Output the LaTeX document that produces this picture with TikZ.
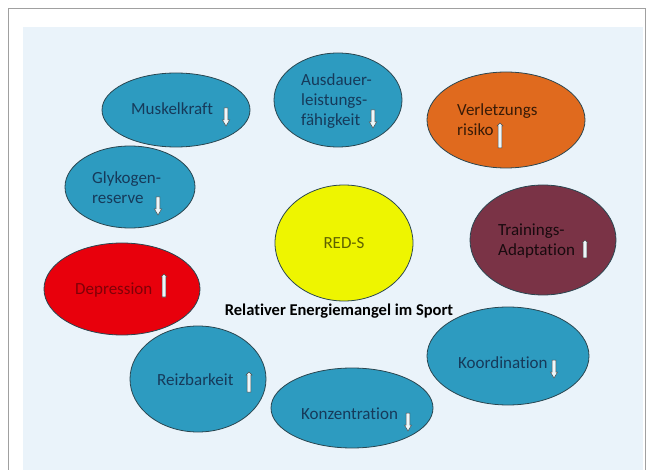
\documentclass[tikz,border=0pt]{standalone}
\usepackage{fontspec}
\setmainfont[Ligatures=NoCommon]{Carlito}
\usetikzlibrary{shapes.geometric,calc}
\definecolor{panel}{HTML}{EAF3FA}
\definecolor{frameg}{HTML}{A0A0A0}
\definecolor{bubble}{HTML}{2D9BC0}
\definecolor{orangeb}{HTML}{E06A1E}
\definecolor{maroonb}{HTML}{7A3346}
\definecolor{redb}{HTML}{E8000C}
\definecolor{yellowb}{HTML}{EEF500}
\definecolor{navy}{HTML}{163A5A}
\definecolor{edge}{HTML}{2A4650}
\definecolor{arrfill}{HTML}{EEF7FA}
\tikzset{
  bub/.style={ellipse, draw=edge, line width=0.8pt, inner sep=0pt},
  lbl/.style={inner sep=0pt, anchor=west, align=left, font=\fontsize{17}{20}\selectfont, text=navy},
  arr/.style={draw=black!70, fill=arrfill, line width=0.5pt, line join=miter},
}
\newcommand\DnArr[2]{% top point (#1,#2)
  \draw[arr] ($(#1,#2)+(-1.8,0)$) -- ++(3.6,0) -- ++(0,12) -- ++(1.8,0) -- ++(-3.6,6) -- ++(-3.6,-6) -- ++(1.8,0) -- cycle;}
\newcommand\UpArr[3]{% top point (#1,#2), height #3
  \draw[arr] ($(#1,#2)+(-1.9,#3)$) -- ++(3.8,0) -- ++(0,-#3+3) -- ++(1,0) -- ++(-2.9,-3) -- ++(-2.9,3) -- ++(1,0) -- cycle;}
\begin{document}
\begin{tikzpicture}[x=1pt,y=-1pt]
\useasboundingbox (0,0) rectangle (653,470);
\fill[white] (0,0) rectangle (653,470);
\draw[frameg, line width=0.8pt] (8.5,475) -- (8.5,8.5) -- (645,8.5) -- (645,475);
\fill[panel] (23,27) rectangle (643,470);

% ellipses
\node[bub, fill=bubble, minimum width=148pt, minimum height=74pt] (muskel) at (176,110) {};
\node[bub, fill=bubble, minimum width=128pt, minimum height=94pt] (ausdauer) at (338,100) {};
\node[bub, fill=orangeb, minimum width=158pt, minimum height=96pt] (verletz) at (506,120) {};
\node[bub, fill=bubble, minimum width=130pt, minimum height=82pt] (glyko) at (130,187) {};
\node[bub, fill=yellowb, minimum width=138pt, minimum height=116pt] (reds) at (344,243) {};
\node[bub, fill=maroonb, minimum width=146pt, minimum height=110pt] (train) at (543,240) {};
\node[bub, fill=redb, minimum width=156pt, minimum height=92pt] (depr) at (122,289) {};
\node[bub, fill=bubble, minimum width=162pt, minimum height=98pt] (koord) at (508,356) {};
\node[bub, fill=bubble, minimum width=136pt, minimum height=106pt] (reiz) at (198,379) {};
\node[bub, fill=bubble, minimum width=162pt, minimum height=80pt] (konz) at (352,408) {};

% labels
\node[lbl] (tmuskel) at (131,109) {Muskelkraft};
\node[lbl] (tausdauer) at (301,101) {Ausdauer-\\leistungs-\\fähigkeit};
\node[lbl, text=black!75!orangeb] (tverletz) at (457,120) {Verletzungs\\risiko};
\node[lbl] (tglyko) at (92,188) {Glykogen-\\reserve};
\node[lbl, anchor=center, text=black!60!yellowb] (treds) at (344,243) {RED-S};
\node[lbl, text=black!80!maroonb] (ttrain) at (498,241) {Trainings-\\Adaptation};
\node[lbl, text=black!45!redb] (tdepr) at (75,290) {Depression};
\node[lbl] (treiz) at (157,380) {Reizbarkeit};
\node[lbl] (tkoord) at (458,363) {Koordination};
\node[lbl] (tkonz) at (301,414) {Konzentration};
\node[inner sep=0pt, font=\fontsize{16.5}{19}\selectfont\bfseries] (title) at (339,311) {Relativer Energiemangel im Sport};

% arrows
\DnArr{226}{108}
\DnArr{373}{110}
\UpArr{500}{123}{25}
\DnArr{158}{197}
\UpArr{585}{240}{18}
\UpArr{164}{274}{23}
\UpArr{249}{372}{20}
\DnArr{554}{360}
\DnArr{408}{413}
\end{tikzpicture}
\end{document}
